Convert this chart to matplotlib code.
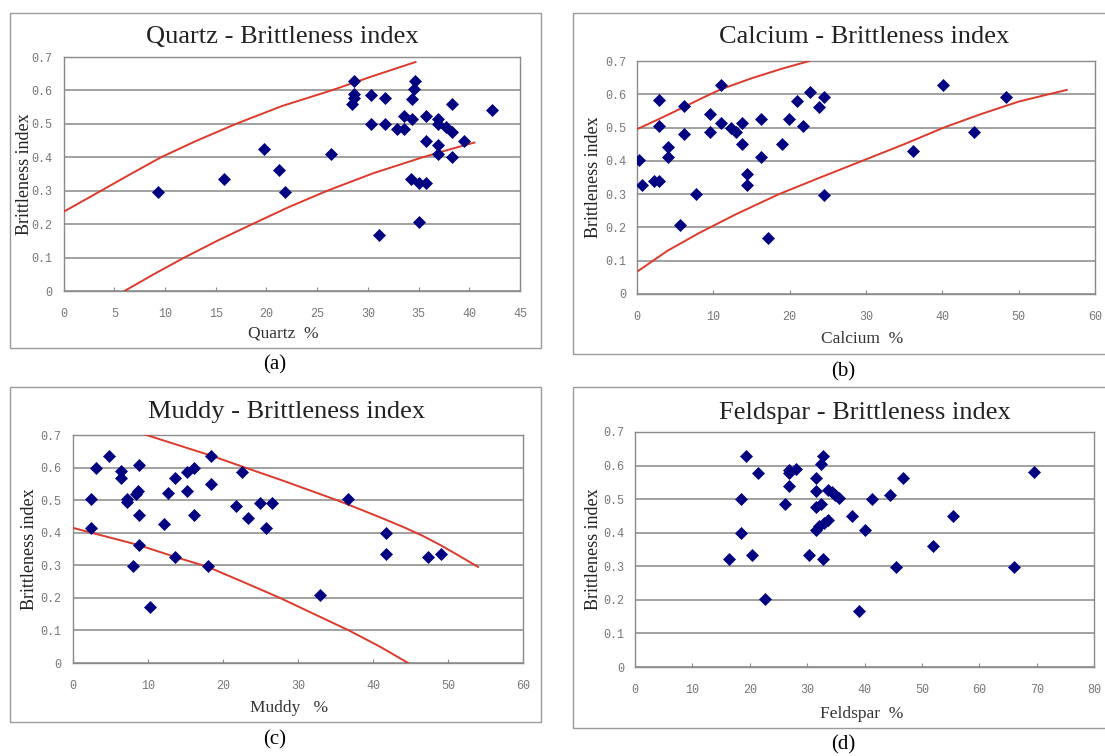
import matplotlib
matplotlib.use("Agg")
import matplotlib.pyplot as plt
from matplotlib.patches import Rectangle

# ---- data ----
# (a) Quartz
quartz_x = [9.3, 15.8, 19.8, 21.2, 21.8, 26.4, 28.6, 28.6, 28.6, 28.4, 30.3, 30.3,
            31.1, 31.7, 31.7, 32.9, 33.6, 33.6, 34.4, 34.6, 34.5, 34.4, 34.3, 35.0,
            35.7, 35.0, 35.7, 35.7, 36.9, 36.9, 36.9, 36.9, 37.7, 38.3, 38.3, 38.3,
            39.5, 42.2]
quartz_bi = [0.297, 0.334, 0.424, 0.361, 0.297, 0.409, 0.627, 0.59, 0.578, 0.558, 0.587, 0.50,
             0.167, 0.577, 0.50, 0.486, 0.486, 0.525, 0.515, 0.627, 0.603, 0.575, 0.336, 0.324,
             0.324, 0.207, 0.525, 0.448, 0.515, 0.50, 0.438, 0.409, 0.491, 0.476, 0.56, 0.40,
             0.448, 0.54]
quartz_up_x = [0, 3.7, 6.5, 9.6, 13.0, 17.0, 21.5, 26.4, 30.5, 34.7]
quartz_up_y = [0.237, 0.30, 0.348, 0.40, 0.448, 0.50, 0.553, 0.60, 0.643, 0.685]
quartz_lo_x = [6.0, 9.0, 11.9, 15.2, 18.6, 22.2, 26.0, 30.5, 35.4, 38.0, 40.5]
quartz_lo_y = [0.0, 0.052, 0.10, 0.151, 0.20, 0.251, 0.30, 0.352, 0.40, 0.423, 0.444]

# (b) Calcium
calcium_x = [0.3, 0.7, 2.2, 2.9, 2.9, 2.9, 4.1, 4.1, 5.6, 6.2, 6.2, 7.7, 9.5, 9.5,
             11.0, 11.0, 12.3, 13.0, 13.8, 13.8, 14.4, 14.4, 16.2, 16.2, 17.1, 19.0,
             19.9, 21.0, 21.8, 22.6, 23.9, 24.5, 24.5, 36.1, 40.1, 44.2, 48.3]
calcium_bi = [0.403, 0.326, 0.338, 0.338, 0.582, 0.504, 0.443, 0.413, 0.206, 0.564, 0.48, 0.30,
              0.54, 0.488, 0.628, 0.514, 0.498, 0.488, 0.514, 0.45, 0.362, 0.326, 0.526, 0.412,
              0.169, 0.45, 0.526, 0.58, 0.504, 0.607, 0.563, 0.592, 0.298, 0.43, 0.628, 0.488,
              0.592]
calcium_up_x = [0, 3, 6, 8.2, 11, 15, 19, 22.6]
calcium_up_y = [0.495, 0.527, 0.56, 0.585, 0.615, 0.648, 0.677, 0.70]
calcium_lo_x = [0.2, 4, 8.2, 13, 18.6, 24, 29.5, 35, 40.2, 45, 50, 53.9, 56.3]
calcium_lo_y = [0.07, 0.13, 0.184, 0.24, 0.30, 0.35, 0.40, 0.45, 0.50, 0.54, 0.578, 0.60, 0.613]

# (c) Muddy
muddy_x = [2.4, 2.4, 3.1, 4.8, 6.4, 6.4, 7.2, 7.3, 8.8, 8.7, 8.5, 8.8, 8.8, 8.1,
           10.3, 12.1, 12.7, 13.6, 13.6, 15.2, 15.2, 16.1, 16.1, 18.0, 18.4, 18.4,
           21.7, 22.6, 23.3, 24.9, 26.5, 25.8, 32.9, 36.7, 41.7, 41.7, 47.4, 49.1]
muddy_bi = [0.503, 0.416, 0.598, 0.636, 0.588, 0.569, 0.503, 0.493, 0.608, 0.529, 0.519, 0.454,
            0.362, 0.297, 0.172, 0.426, 0.521, 0.569, 0.326, 0.529, 0.586, 0.598, 0.454, 0.297,
            0.634, 0.549, 0.482, 0.585, 0.444, 0.492, 0.492, 0.416, 0.21, 0.503, 0.40, 0.334,
            0.324, 0.334]
muddy_up_x = [9.4, 18.4, 22.6, 28.0, 35.2, 38.5, 41.4, 44.0, 46.5, 49.0, 51.5, 54.0]
muddy_up_y = [0.703, 0.637, 0.603, 0.56, 0.50, 0.47, 0.443, 0.418, 0.392, 0.362, 0.329, 0.295]
muddy_lo_x = [0, 8.8, 13.6, 18.0, 22.8, 27.6, 32.2, 36.8, 40.8, 44.7]
muddy_lo_y = [0.415, 0.362, 0.326, 0.295, 0.248, 0.20, 0.15, 0.10, 0.052, 0.0]

# (d) Feldspar
feldspar_x = [16.3, 18.4, 18.4, 19.3, 20.4, 21.5, 22.7, 26.1, 26.8, 26.8, 26.9, 28.0,
              30.3, 31.5, 31.5, 31.5, 31.5, 32.1, 32.5, 32.7, 32.5, 32.7, 33.0, 33.6,
              33.6, 34.4, 34.9, 35.6, 37.9, 39.0, 40.1, 41.3, 44.5, 45.5, 46.7, 51.9,
              55.4, 66.1, 69.5]
feldspar_bi = [0.323, 0.501, 0.399, 0.628, 0.335, 0.578, 0.204, 0.487, 0.54, 0.588, 0.578, 0.59,
               0.335, 0.563, 0.525, 0.476, 0.409, 0.42, 0.487, 0.628, 0.606, 0.323, 0.429, 0.439,
               0.528, 0.52, 0.513, 0.503, 0.449, 0.166, 0.409, 0.499, 0.513, 0.297, 0.563, 0.361,
               0.449, 0.297, 0.58]

y_ticks = [0, 0.1, 0.2, 0.3, 0.4, 0.5, 0.6, 0.7]
y_ticklabels = ['0', '0.1', '0.2', '0.3', '0.4', '0.5', '0.6', '0.7']

W, H = 1105, 756
fig = plt.figure(figsize=(W / 100, H / 100), dpi=100)
SERIF = 'Liberation Serif'
NAVY = '#000080'
RED = '#dc3a2c'
GRID = '#878787'


def rect(l, t, r, b):
    return [l / W, 1 - b / H, (r - l) / W, (b - t) / H]


def panel(box, axbox, title, tpos, xlabel, xpos, cap, cpos, ylab_x,
          xs, ys, xmax, xstep, curves):
    # outer frame of the chart
    l, t, r, b = box
    fig.patches.append(Rectangle((l / W, 1 - b / H), (r - l) / W, (b - t) / H,
                                 transform=fig.transFigure, fill=False,
                                 edgecolor='#9a9a9a', lw=1.0))
    ax = fig.add_axes(rect(*axbox))
    for cx, cy in curves:
        ax.plot(cx, cy, color=RED, lw=1.4, zorder=3, solid_joinstyle='round')
    ax.plot(xs, ys, linestyle='none', marker='D', ms=6.4, color=NAVY,
            markeredgecolor=NAVY, markeredgewidth=0.5, zorder=4)
    ax.set_xlim(0, xmax)
    ax.set_ylim(0, 0.7)
    ax.set_yticks(y_ticks)
    ax.set_yticklabels(y_ticklabels)
    xt = list(range(0, xmax + 1, xstep))
    ax.set_xticks(xt)
    ax.set_xticklabels([str(v) for v in xt])
    ax.yaxis.grid(True, color=GRID, lw=1.1)
    ax.set_axisbelow(True)
    for s in ax.spines.values():
        s.set_color('#8a8a8a')
        s.set_linewidth(1.0)
    ax.tick_params(axis='x', direction='in', length=3, color='#8a8a8a',
                   labelsize=8.5, labelcolor='#777777', pad=12)
    ax.tick_params(axis='y', length=0, labelsize=8.5, labelcolor='#777777', pad=8)
    for lab in ax.get_xticklabels() + ax.get_yticklabels():
        lab.set_family('Liberation Mono')
    fig.text(tpos[0] / W, 1 - tpos[1] / H, title, family=SERIF, fontsize=19,
             color='#222222', ha='center', va='center')
    fig.text(xpos[0] / W, 1 - xpos[1] / H, xlabel, family=SERIF, fontsize=12.5,
             color='#333333', ha='center', va='center')
    fig.text(ylab_x / W, 1 - (axbox[1] + axbox[3]) / 2 / H, 'Brittleness index',
             family=SERIF, fontsize=13, color='#222222', rotation=90,
             ha='center', va='center')
    fig.text(cpos[0] / W, 1 - cpos[1] / H, cap, family=SERIF, fontsize=15,
             color='black', ha='center', va='center')
    return ax


panel((10, 13, 541, 348), (63.6, 57, 520, 291), 'Quartz - Brittleness index', (282, 37),
      'Quartz  %', (283, 333), '(a)', (275, 365), 25,
      quartz_x, quartz_bi, 45, 5,
      [(quartz_up_x, quartz_up_y), (quartz_lo_x, quartz_lo_y)])

panel((573, 13, 1110, 354), (637, 61, 1095, 294), 'Calcium - Brittleness index', (864, 37),
      'Calcium  %', (862, 339), '(b)', (843, 372), 594,
      calcium_x, calcium_bi, 60, 10,
      [(calcium_up_x, calcium_up_y), (calcium_lo_x, calcium_lo_y)])

panel((10, 387, 541, 722), (72.7, 435, 523, 663), 'Muddy - Brittleness index', (287, 412),
      'Muddy   %', (289, 708), '(c)', (275, 740), 29,
      muddy_x, muddy_bi, 60, 10,
      [(muddy_up_x, muddy_up_y), (muddy_lo_x, muddy_lo_y)])

panel((573, 387, 1110, 728), (635, 432, 1094, 667), 'Feldspar - Brittleness index', (865, 413),
      'Feldspar  %', (862, 714), '(d)', (843, 745), 593,
      feldspar_x, feldspar_bi, 80, 10, [])

fig.savefig('out.png', dpi=100)
